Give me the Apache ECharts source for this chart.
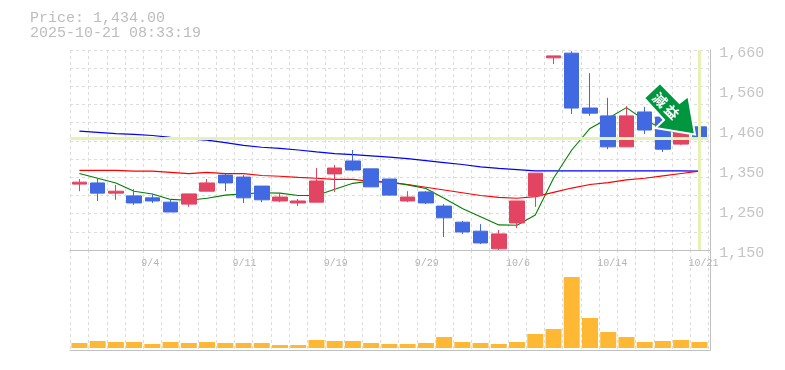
<!DOCTYPE html>
<html><head><meta charset="utf-8">
<style>html,body{margin:0;padding:0;background:#fff}#c{width:785px;height:370px}</style>
<script src="https://cdn.jsdelivr.net/npm/echarts@6/dist/echarts.min.js"></script>
</head><body><div id="c"></div>
<script>
const categories=['8/29','9/1','9/2','9/3','9/4','9/5','9/8','9/9','9/10','9/11','9/12','9/16','9/17','9/18','9/19','9/22','9/24','9/25','9/26','9/29','9/30','10/1','10/2','10/3','10/6','10/7','10/8','10/9','10/10','10/14','10/15','10/16','10/17','10/20','10/21'];
// open, close, low, high
const candles=[[1318,1323,1300,1331],[1321,1295,1275,1331],[1295,1300,1278,1316],[1288,1270,1265,1305],[1283,1275,1270,1293],[1272,1247,1247,1280],[1267,1293,1260,1293],[1300,1321,1300,1331],[1341,1321,1300,1344],[1336,1283,1270,1341],[1313,1278,1272,1313],[1275,1285,1272,1295],[1270,1275,1262,1280],[1272,1326,1272,1359],[1344,1359,1298,1367],[1377,1354,1351,1405],[1357,1311,1311,1357],[1331,1290,1290,1331],[1275,1285,1272,1300],[1298,1270,1267,1300],[1262,1232,1183,1267],[1221,1196,1191,1224],[1198,1168,1165,1216],[1153,1191,1150,1201],[1219,1275,1206,1275],[1288,1346,1260,1346],[1640,1645,1624,1645],[1652,1512,1497,1657],[1512,1499,1492,1601],[1492,1413,1407,1538],[1413,1492,1413,1517],[1502,1456,1446,1515],[1489,1407,1400,1495],[1420,1450,1418,1460],[1464,1434,1428,1476]];
const ma5=[1345,1333,1321,1300,1293,1279,1277,1282,1290,1293,1296,1295,1289,1289,1305,1320,1326,1324,1316,1307,1282,1256,1235,1214,1213,1239,1333,1405,1460,1486,1513,1481,1460,1444,1448];
const ma25=[1353,1353,1353,1351,1351,1348,1345,1348,1345,1345,1340,1338,1335,1333,1330,1330,1325,1322,1317,1310,1303,1296,1289,1284,1282,1286,1297,1308,1317,1322,1329,1333,1339,1345,1351];
const ma75=[1453,1450,1447,1445,1442,1437,1433,1430,1424,1417,1412,1409,1405,1400,1396,1393,1390,1387,1383,1378,1373,1368,1362,1358,1355,1352,1352,1352,1352,1352,1352,1352,1352,1352,1351];
const volumes=[5,7,6,6,4,6,5,6,5,5,5,3,3,8,7,7,5,4,4,5,11,6,5,4,6,14,19,71,30,16,11,6,7,8,6];
const priceTicks={1150:'1,150',1252:'1,250',1354:'1,350',1456:'1,460',1558:'1,560',1660:'1,660'};
const lastPrice=1434;
const labelEvery=5;

const MONO='"Liberation Mono",monospace', GRAY='#c4c4c4', SPLIT='#dcdcdc', BAND='#e6f2b4';
const splitX={show:true,interval:0,lineStyle:{color:SPLIT,type:[3,3],width:1}};
const L=70.3,W=638.2;
const chart=echarts.init(document.getElementById('c'),null,{renderer:'canvas'});
chart.setOption({
  animation:false,backgroundColor:'#fff',
  title:[{text:'Price: 1,434.00\n2025-10-21 08:33:19',left:25,top:6,textStyle:{fontFamily:MONO,fontSize:15,fontWeight:'normal',color:'#bdbdbd',lineHeight:15}}],
  grid:[
    {left:L,width:W,top:50,height:200},
    {left:L,width:W,top:250,height:100},
    {left:70,width:640,top:50,height:200},
    {left:70,width:640,top:250,height:100}
  ],
  xAxis:[
    {type:'category',gridIndex:0,data:categories,boundaryGap:true,axisLine:{show:false},axisTick:{show:false},splitLine:splitX,
     axisLabel:{interval:(i)=>i%labelEvery===labelEvery-1,margin:8,formatter:v=>'{a|'+v+'}',
       rich:{a:{width:22,align:'left',fontFamily:MONO,fontSize:10,color:'#b4b4b4'}}}},
    {type:'category',gridIndex:1,data:categories,boundaryGap:true,axisLine:{show:false},axisTick:{show:false},axisLabel:{show:false},splitLine:splitX},
    {type:'value',gridIndex:2,min:0,max:1,axisLine:{show:true,onZero:false,lineStyle:{color:'#c0c0c0',width:1}},axisTick:{show:false},axisLabel:{show:false},splitLine:{show:false}},
    {type:'value',gridIndex:3,min:0,max:1,axisLine:{show:true,onZero:false,lineStyle:{color:'#c0c0c0',width:1}},axisTick:{show:false},axisLabel:{show:false},splitLine:{show:false}}
  ],
  yAxis:[
    {type:'value',gridIndex:0,min:1150,max:1660,interval:102,position:'right',offset:1.7,axisLine:{show:true,onZero:false,lineStyle:{color:'#c0c0c0'}},axisTick:{show:false},splitLine:{show:false},
     axisLabel:{margin:9,verticalAlign:'top',lineHeight:6,fontFamily:MONO,fontSize:15,color:GRAY,formatter:v=>priceTicks[v]||''}},
    {type:'value',gridIndex:1,min:-2,max:98,position:'right',offset:1.7,axisLine:{show:true,onZero:false,lineStyle:{color:'#c0c0c0'}},axisTick:{show:false},axisLabel:{show:false},splitLine:{show:false}},
    {type:'value',gridIndex:2,min:0,max:11,interval:1,axisLine:{show:false},axisTick:{show:false},axisLabel:{show:false},splitLine:{show:true,lineStyle:{color:SPLIT,type:[3,3],width:1}}},
    {type:'value',gridIndex:3,min:0,max:1,axisLine:{show:false},axisTick:{show:false},axisLabel:{show:false},splitLine:{show:false}}
  ],
  series:[
    {type:'line',name:'band',xAxisIndex:0,yAxisIndex:0,data:[],z:1,silent:true,
     markLine:{silent:true,symbol:'none',animation:false,label:{show:false},lineStyle:{color:BAND,width:3,type:'solid'},
       data:[{yAxis:lastPrice},{xAxis:categories[categories.length-1]}]}},
    {type:'line',name:'MA75',xAxisIndex:0,yAxisIndex:0,data:ma75,symbol:'none',z:2,lineStyle:{color:'#0000ff',width:1.2}},
    {type:'line',name:'MA25',xAxisIndex:0,yAxisIndex:0,data:ma25,symbol:'none',z:2,lineStyle:{color:'#ff0000',width:1.2}},
    {type:'line',name:'MA5',xAxisIndex:0,yAxisIndex:0,data:ma5,symbol:'none',z:2,lineStyle:{color:'#008000',width:1.1}},
    {type:'candlestick',name:'Price',xAxisIndex:0,yAxisIndex:0,data:candles,barWidth:15,z:3,
     itemStyle:{color:'#e24462',color0:'#4169e1',borderColor:'#e24462',borderColor0:'#4169e1',borderWidth:1}},
    {type:'bar',name:'Volume',xAxisIndex:1,yAxisIndex:1,data:volumes,barWidth:16,itemStyle:{color:'#ffb833'},z:3}
  ],
  graphic:[
    {type:'polygon',z:10,shape:{points:[[660,83],[644,98],[664,120],[655.5,128],[695,134.5],[688.3,96],[679.5,103]]},
     style:{fill:'#00963f',stroke:'#fff',lineWidth:2,lineJoin:'miter'}},
    {type:'text',z:11,x:660,y:100,rotation:-Math.PI/4,style:{text:'減',fill:'#fff',font:'bold 14px "Noto Sans CJK JP"',align:'center',verticalAlign:'middle'}},
    {type:'text',z:11,x:672,y:112,rotation:-Math.PI/4,style:{text:'益',fill:'#fff',font:'bold 14px "Noto Sans CJK JP"',align:'center',verticalAlign:'middle'}}
  ]
});
</script></body></html>
